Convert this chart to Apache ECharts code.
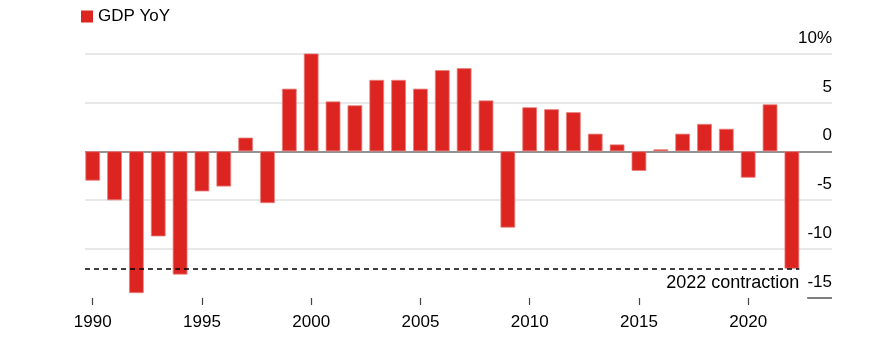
<!DOCTYPE html>
<html>
<head>
<meta charset="utf-8">
<script src="https://cdn.jsdelivr.net/npm/echarts@6/dist/echarts.min.js"></script>
<style>
html,body{margin:0;padding:0;background:#fff;}
#chart{width:879px;height:349px;}
</style>
</head>
<body>
<div id="chart"></div>
<script>
const years = [1990,1991,1992,1993,1994,1995,1996,1997,1998,1999,2000,2001,2002,2003,2004,2005,2006,2007,2008,2009,2010,2011,2012,2013,2014,2015,2016,2017,2018,2019,2020,2021,2022];
const gdpYoY = [-3.0,-5.0,-14.5,-8.7,-12.6,-4.1,-3.6,1.4,-5.3,6.4,10.0,5.1,4.7,7.3,7.3,6.4,8.3,8.5,5.2,-7.8,4.5,4.3,4.0,1.8,0.7,-2.0,0.2,1.8,2.8,2.3,-2.7,4.8,-12.0];
const xTickLabels = [1990,1995,2000,2005,2010,2015,2020];
const yTicks = [-15,-10,-5,0,5,10];
const contractionYear = 2022;
const contractionValue = -12.0;
const seriesName = 'GDP YoY';
const annotationText = '2022 contraction';

const FONT = 'Liberation Sans, Arial, Helvetica, sans-serif';
const xMin = 1989.648, xMax = 2023.836;
const chart = echarts.init(document.getElementById('chart'), null, {renderer:'canvas'});
chart.setOption({
  animation:false,
  backgroundColor:'#fff',
  textStyle:{fontFamily:FONT},
  legend:{
    left:76, top:3, itemWidth:12, itemHeight:12, itemGap:8,
    icon:'rect',
    itemStyle:{borderWidth:0, color:'#dc2420'},
    textStyle:{fontSize:17, color:'#000', fontFamily:FONT},
    data:[seriesName]
  },
  grid:{left:85, right:47, top:53.5, bottom:51, containLabel:false},
  xAxis:{
    type:'value', min:xMin, max:xMax,
    axisLine:{show:false, onZero:false},
    splitLine:{show:false},
    axisTick:{show:true, length:7, customValues:xTickLabels, lineStyle:{color:'#444', width:1.2}},
    axisLabel:{customValues:xTickLabels, fontSize:17, color:'#000', margin:16, fontFamily:FONT,
      formatter:v=>String(Math.round(v))}
  },
  yAxis:{
    type:'value', position:'right', min:yTicks[0], max:yTicks[yTicks.length-1], interval:5,
    axisLine:{show:false}, axisTick:{show:false},
    splitLine:{show:true, lineStyle:{width:1.5, color:['rgba(0,0,0,0)','#e0e0e0','#e0e0e0','#6e6e6e','#e0e0e0','#e0e0e0']}},
    axisLabel:{inside:true, align:'right', verticalAlign:'bottom', margin:0, padding:[0,0,7,0],
      fontSize:17, color:'#000', fontFamily:FONT,
      formatter:v=> v===yTicks[yTicks.length-1] ? v+'%' : String(v)}
  },
  series:[{
    name:seriesName, type:'bar', barWidth:14.7,
    itemStyle:{color:'#dc2420', borderColor:'#e8807c', borderWidth:0.8},
    data: years.map((y,i)=>[y, gdpYoY[i]]),
    markLine:{
      silent:true, symbol:['none','none'],
      data:[
        [{coord:[xMin, contractionValue], lineStyle:{type:[5,4], color:'#000', width:1.5},
          label:{show:true, position:'insideEndBottom', formatter:annotationText, fontSize:18, color:'#000', fontFamily:FONT, distance:[0,5]}},
         {coord:[contractionYear+0.34, contractionValue]}],
        [{coord:[contractionYear+0.7, yTicks[0]], lineStyle:{type:'solid', color:'#555', width:1.5}, label:{show:false}},
         {coord:[xMax, yTicks[0]]}]
      ]
    }
  }]
});
</script>
</body>
</html>
